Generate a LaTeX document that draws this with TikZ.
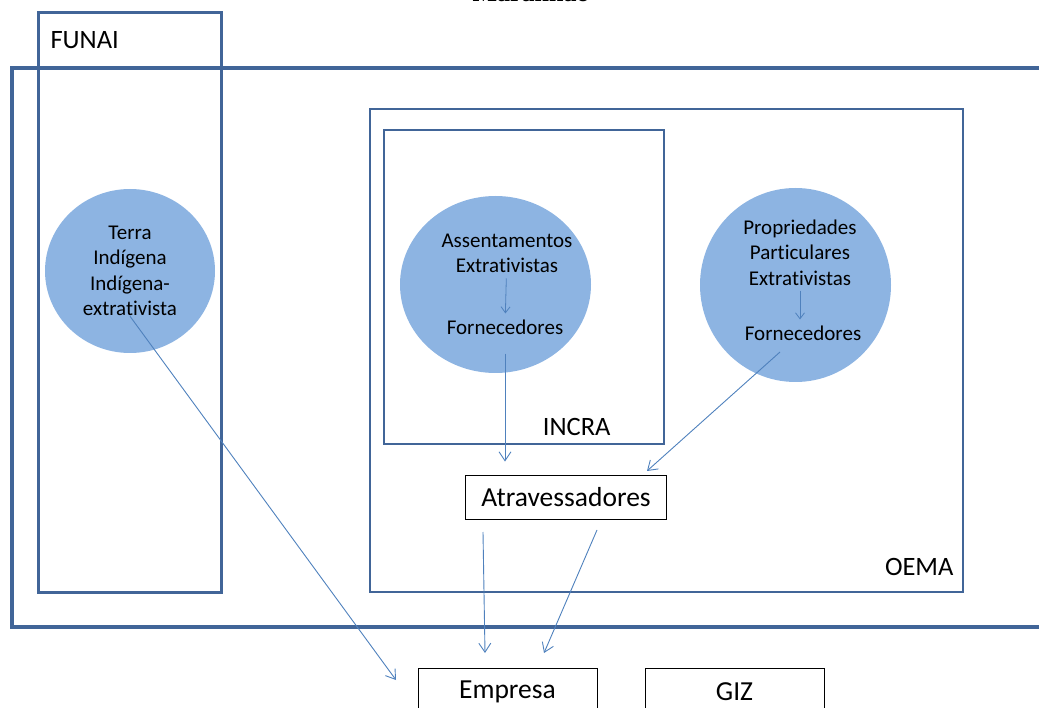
\documentclass[tikz,border=0pt]{standalone}
\usepackage{fontspec}
\setmainfont{Carlito}[Ligatures=NoCommon]
\newfontfamily\titulofont{Liberation Serif}
\usetikzlibrary{shapes.geometric,arrows.meta}
\definecolor{quadro}{RGB}{65,101,152}
\definecolor{azulclaro}{RGB}{141,180,226}
\definecolor{azulseta}{RGB}{79,129,189}

\begin{document}
\begin{tikzpicture}[x=1pt,y=-1pt,
	orgao/.style={draw=quadro,line width=2.5pt,inner sep=0pt},
	area/.style={ellipse,fill=azulclaro,inner sep=0pt},
	caixa/.style={draw=black,line width=0.8pt,font=\fontsize{27.5}{32}\selectfont},
	rotulo/.style={font=\fontsize{26.5}{31}\selectfont},
	texto/.style={align=center,inner sep=0pt,font=\fontsize{21}{25.5}\selectfont},
	seta/.style={draw=azulseta,line width=0.9pt,-{Straight Barb[length=9pt,width=12pt]}},
	setinha/.style={draw=azulseta,line width=0.8pt,-{Straight Barb[length=6pt,width=9pt]}}]
	\useasboundingbox (0,0) rectangle (1039,708);
	\node[font=\titulofont\bfseries\fontsize{26}{30}\selectfont,anchor=base] (titulo) at (531,2) {Maranhão};
	% quadros dos orgaos
	\node[orgao,line width=3.5pt,minimum width=1034pt,minimum height=559pt] (estado) at (529,347.5) {};
	\node[orgao,line width=3pt,minimum width=183pt,minimum height=579pt] (funai) at (129.5,302.5) {};
	\node[orgao,minimum width=593pt,minimum height=483pt] (oema) at (666.5,350.5) {};
	\node[orgao,minimum width=280pt,minimum height=314pt] (incra) at (524,287) {};
	\node[rotulo,anchor=west] at (47,40) {FUNAI};
	\node[rotulo,anchor=east] at (957,567) {OEMA};
	\node[rotulo,anchor=east] at (614,427) {INCRA};
	% areas
	\node[area,minimum width=170pt,minimum height=164pt] (terra) at (130,271) {};
	\node[texto] (terraTxt) at (terra) {Terra\\Indígena\\Indígena-\\extrativista};
	\node[area,minimum width=191pt,minimum height=177pt] (assent) at (495.5,284.5) {};
	\node[texto] (assentTxt) at (507,253.5) {Assentamentos\\Extrativistas};
	\node[texto] (assentForn) at (505,327) {Fornecedores};
	\node[area,minimum width=191pt,minimum height=194pt] (propr) at (795.5,285) {};
	\node[texto] (proprTxt) at (800,252.5) {Propriedades\\Particulares\\Extrativistas};
	\node[texto] (proprForn) at (803,333) {Fornecedores};
	% caixas
	\node[caixa,minimum width=201pt,minimum height=44pt] (atrav) at (566,497) {Atravessadores};
	\node[caixa,minimum width=179pt,minimum height=48pt] (empresa) at (507.5,692) {Empresa};
	\node[caixa,minimum width=179pt,minimum height=48pt] (giz) at (734.5,692) {GIZ};
	% setas
	\coordinate (terraFim) at (396,680);
	\coordinate (proprIni) at (780,352);
	\coordinate (proprFim) at (647,471);
	\coordinate (atravA) at (483,532);
	\coordinate (atravB) at (597,530);
	\coordinate (empresaA) at (485,653);
	\coordinate (empresaB) at (544,653);
	\draw[setinha,shorten <=5pt,shorten >=6pt] (assentTxt) -- (assentForn);
	\draw[setinha,shorten <=5pt,shorten >=6pt] (proprTxt) -- (proprTxt |- proprForn.north);
	\draw[seta] (terraTxt.south) -- (terraFim);
	\draw[seta,shorten <=19pt,shorten >=13pt] (assentForn.south) -- (assentForn.south |- atrav.north);
	\draw[seta] (proprIni) -- (proprFim);
	\draw[seta] (atravA) -- (empresaA);
	\draw[seta] (atravB) -- (empresaB);
\end{tikzpicture}
\end{document}
